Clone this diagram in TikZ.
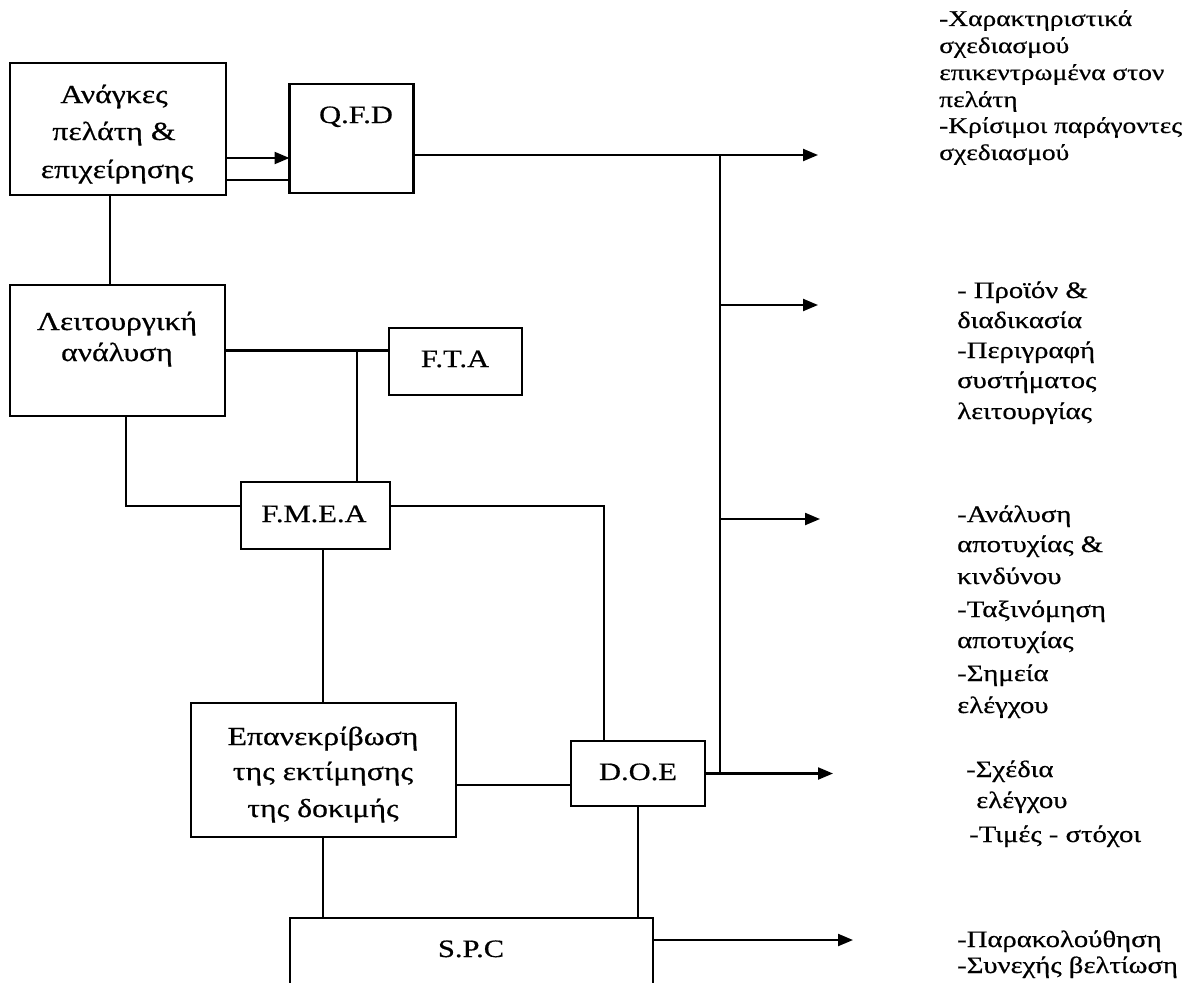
\documentclass[tikz,border=0pt]{standalone}
\usepackage{fontspec}
\setmainfont{Liberation Serif}[FakeStretch=1.22,FakeBold=0.6]
\usetikzlibrary{arrows.meta}
\begin{document}
\begin{tikzpicture}[x=1pt,y=-1pt,
  box/.style={draw, line width=2.6pt, inner sep=0pt, outer sep=0pt},
  ln/.style={line width=2.2pt},
  arr/.style={line width=2.2pt, -{Triangle[length=15pt,width=12pt]}},
  bt/.style={anchor=base, inner sep=0pt, font=\fontsize{26}{30}\selectfont},
  ab/.style={anchor=base, inner sep=0pt, font=\fontsize{25}{30}\selectfont},
  rta/.style={anchor=base west, inner sep=0pt, font=\fontsize{22.5}{26}\selectfont},
  rt/.style={anchor=base west, inner sep=0pt, font=\fontsize{23.5}{28}\selectfont}]
\path[use as bounding box, clip] (0,0) rectangle (1201,982);
\fill[white] (0,0) rectangle (1201,982);

% boxes
\node[box, minimum width=216pt, minimum height=132pt] (needs) at (118,129) {};
\node[box, minimum width=124pt, minimum height=109pt] (qfd) at (351.5,138.5) {};
\node[box, minimum width=215pt, minimum height=131pt] (func) at (117.5,350.5) {};
\node[box, minimum width=133pt, minimum height=67pt] (fta) at (455.5,361.5) {};
\node[box, minimum width=149pt, minimum height=67pt] (fmea) at (315.5,515.5) {};
\node[box, minimum width=265pt, minimum height=134pt] (rev) at (323.5,770) {};
\node[box, minimum width=134pt, minimum height=65pt] (doe) at (638,773.5) {};
\node[box, minimum width=363pt, minimum height=92pt] (spc) at (471.5,964) {};

% box texts
\node[bt] (needs-1) at (114,103) {Ανάγκες};
\node[bt] (needs-2) at (114,140) {πελάτη \&};
\node[bt] (needs-3) at (117,178) {επιχείρησης};
\node[bt] (func-1) at (117,330) {Λειτουργική};
\node[bt] (func-2) at (117,361) {ανάλυση};
\node[bt] (rev-1) at (323,745) {Επανεκρίβωση};
\node[bt] (rev-2) at (323,780) {της εκτίμησης};
\node[bt] (rev-3) at (323,817) {της δοκιμής};
\node[ab] (qfd-t) at (356,123) {Q.F.D};
\node[ab] (fta-t) at (455,367) {F.T.A};
\node[ab] (fmea-t) at (314,522) {F.M.E.A};
\node[ab] (doe-t) at (638,780) {D.O.E};
\node[ab] (spc-t) at (471,957) {S.P.C};

% helper coordinates
\coordinate (h1) at (0,158);
\coordinate (h2) at (0,180);
\coordinate (v1) at (110,0);
\coordinate (v2) at (126,0);
\coordinate (h3) at (0,506);
\coordinate (v3) at (604,0);
\coordinate (h4) at (0,785);
\coordinate (h5) at (0,940);
\coordinate (h6) at (0,155);
\coordinate (v4) at (323,0);
\coordinate (j1) at (357,350.5);
\coordinate (t1) at (818,155);
\coordinate (tr1) at (720,155);
\coordinate (tr2) at (720,305);
\coordinate (tr3) at (720,519);
\coordinate (tr4) at (720,773.5);
\coordinate (t2) at (818,305);
\coordinate (t3) at (820,519);
\coordinate (t4) at (833,773.5);
\coordinate (t5) at (853,940);

% connectors
\draw[arr] (needs.east |- h1) -- (qfd.west |- h1);
\draw[ln] (needs.east |- h2) -- (qfd.west |- h2);
\draw[ln] (needs.south -| v1) -- (func.north -| v1);
\draw[ln] (func.east) -- (fta.west |- func.east);
\draw[ln] (j1) -- (fmea.north -| j1);
\draw[ln] (func.south -| v2) |- (fmea.west |- h3);
\draw[ln] (fmea.east |- h3) -| (doe.north -| v3);
\draw[ln] (fmea.south -| v4) -- (rev.north -| v4);
\draw[ln] (rev.east |- h4) -- (doe.west |- h4);
\draw[ln] (rev.south -| v4) -- (spc.north -| v4);
\draw[ln] (doe.south) -- (spc.north -| doe.south);
\draw[arr] (qfd.east |- h6) -- (t1);
\draw[ln] (tr1) -- (tr4);
\draw[arr] (tr2) -- (t2);
\draw[arr] (tr3) -- (t3);
\draw[arr] (doe.east) -- (t4);
\draw[arr] (spc.east |- h5) -- (t5);

% right-hand texts
\node[rta] (a1) at (939,26) {-Χαρακτηριστικά};
\node[rta] (a2) at (939,53) {σχεδιασμού};
\node[rta] (a3) at (939,80) {επικεντρωμένα στον};
\node[rta] (a4) at (939,107) {πελάτη};
\node[rta] (a5) at (939,133) {-Κρίσιμοι παράγοντες};
\node[rta] (a6) at (939,160) {σχεδιασμού};

\node[rt] (b1) at (957,298) {- Προϊόν \&};
\node[rt] (b2) at (957,328) {διαδικασία};
\node[rt] (b3) at (957,358) {-Περιγραφή};
\node[rt] (b4) at (957,388) {συστήματος};
\node[rt] (b5) at (957,419) {λειτουργίας};

\node[rt] (c1) at (957,522) {-Ανάλυση};
\node[rt] (c2) at (957,552) {αποτυχίας \&};
\node[rt] (c3) at (957,584) {κινδύνου};
\node[rt] (c4) at (957,617) {-Ταξινόμηση};
\node[rt] (c5) at (957,648) {αποτυχίας};
\node[rt] (c6) at (957,681) {-Σημεία};
\node[rt] (c7) at (957,713) {ελέγχου};

\node[rt] (d1) at (966,777) {-Σχέδια};
\node[rt] (d2) at (976,808) {ελέγχου};
\node[rt] (d3) at (969,842) {-Τιμές - στόχοι};

\node[rt] (e1) at (957,947) {-Παρακολούθηση};
\node[rt] (e2) at (957,973) {-Συνεχής βελτίωση};
\end{tikzpicture}
\end{document}
